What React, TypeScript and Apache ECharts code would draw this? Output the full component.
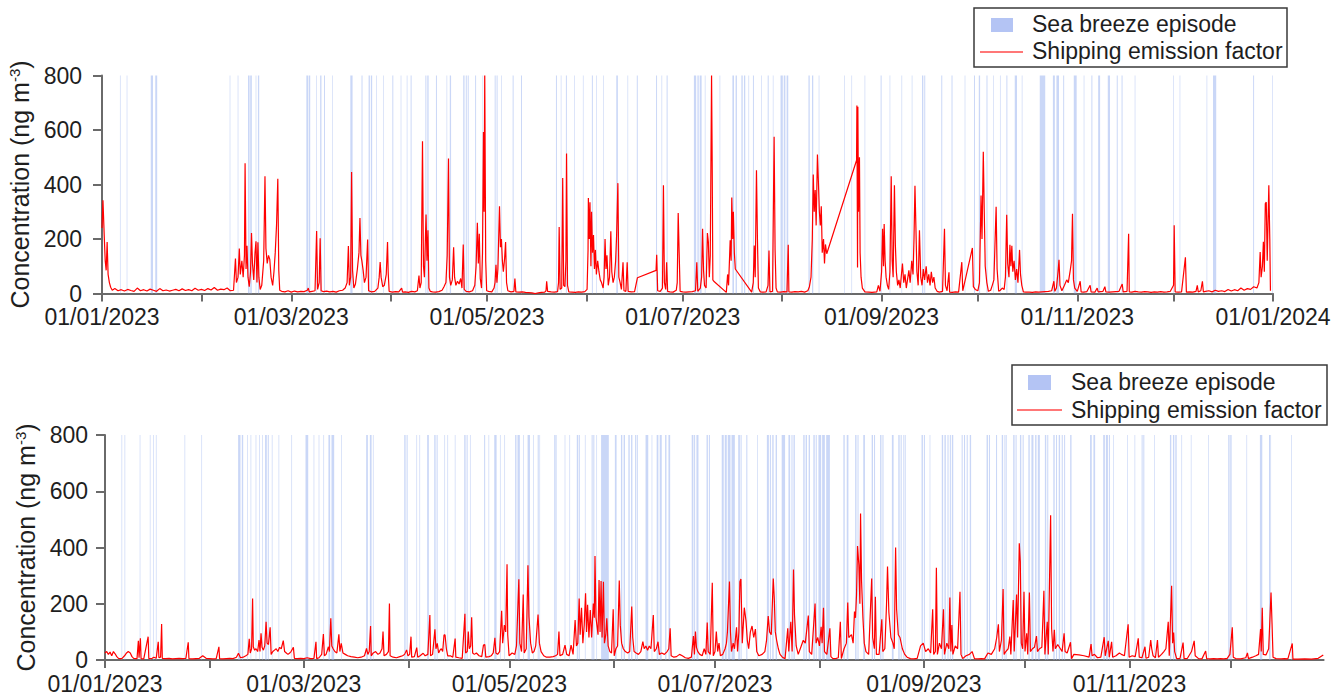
import React, { useEffect, useRef } from 'react';
import * as echarts from 'echarts';

// Day-of-year positions (0 = 1 Jan 2023) of month starts and labelled ticks
const monthStartDays = [0, 31, 59, 90, 120, 151, 181, 212, 243, 273, 304, 334, 365];
const labelDays = [0, 59, 120, 181, 243, 304, 365];
const labelTexts = ['01/01/2023', '01/03/2023', '01/05/2023', '01/07/2023', '01/09/2023', '01/11/2023', '01/01/2024'];
const yTicks = [0, 200, 400, 600, 800];

// Shipping emission factor, panel 1: [day of year, ng m-3]
const shippingTop: [number, number][] = [
  [0, 240], [0.3, 342], [0.7, 210], [1.0, 120], [1.3, 85], [1.6, 189], [1.9, 70], [2.3, 40], [2.7, 23], [3.2, 12], [4, 18], [5, 10], [6, 14], [7, 9], [8, 15], [9, 11], [10, 8], [11, 20], [12, 10], [13, 14], [14, 9], [15, 16], [16, 12], [17, 8], [18, 18], [19, 10], [20, 13], [21, 9], [22, 12], [23, 15], [24, 10], [25, 17], [26, 11], [27, 14], [28, 10], [29, 19], [30, 12], [31, 15], [32, 11], [33, 18], [34, 13], [35, 22], [36, 12], [37, 16], [38, 14], [39, 20], [40, 10], [41, 12],
  [41.6, 128], [41.9, 40], [42.4, 60], [42.8, 165], [43.1, 70], [43.6, 120], [44.0, 60], [44.4, 140], [44.6, 478], [44.9, 90], [45.2, 175], [45.5, 60], [45.9, 25], [46.3, 80], [46.6, 222], [46.9, 110], [47.3, 50], [47.7, 150], [48.0, 192], [48.3, 40], [48.6, 188], [48.9, 60], [49.3, 15], [49.8, 30], [50.4, 120], [50.8, 430], [51.1, 165], [51.5, 110], [51.9, 140], [52.3, 125], [52.7, 60], [53.2, 30], [53.6, 80], [54.0, 150], [54.4, 250], [54.8, 421], [55.1, 85], [55.4, 12],
  [56, 8], [57, 6], [58, 10], [59, 5], [60, 9], [61, 6], [62, 8], [63, 7], [64, 12], [64.3, 20], [64.6, 6], [65.5, 8], [66.4, 10], [66.9, 229], [67.2, 15], [67.7, 40], [68.0, 203], [68.3, 10], [69, 7], [70, 9], [71, 6], [72, 8], [73, 5], [74, 10], [75, 12], [75.8, 20], [76.4, 40], [76.8, 174], [77.1, 30], [77.5, 60], [77.8, 446], [78.1, 85], [78.5, 20], [79, 35], [79.6, 90], [80.1, 150], [80.4, 277], [80.7, 140], [81.0, 120], [81.4, 85], [81.8, 40], [82.3, 60], [82.8, 198], [83.1, 10], [84, 6], [85, 8], [86, 20], [86.4, 60], [86.7, 115], [87.0, 60], [87.5, 25], [88.0, 30], [88.6, 70], [89.0, 189], [89.2, 80], [89.5, 8], [90.5, 5], [91.5, 7], [92.5, 6],
  [93.4, 20], [93.7, 5], [94.5, 6], [95.5, 4], [96.5, 8], [97.5, 6], [98.3, 10], [98.8, 66], [99.1, 20], [99.5, 40], [99.9, 559], [100.2, 100], [100.5, 60], [101.0, 290], [101.3, 120], [101.6, 232], [101.9, 20], [102.3, 8], [103, 6], [104, 5], [105, 7], [106, 12], [106.6, 25], [107.2, 40], [107.6, 140], [108.0, 495], [108.3, 60], [108.7, 30], [109.2, 50], [109.6, 170], [109.9, 60], [110.3, 30], [110.8, 45], [111.3, 35], [111.8, 55], [112.2, 20], [112.6, 180], [112.9, 15], [113.5, 8], [114.5, 6], [115.5, 10], [116.2, 30], [116.6, 100], [117.0, 260], [117.3, 110], [117.6, 219], [117.9, 55], [118.3, 20], [118.6, 150], [118.9, 593], [119.1, 300], [119.3, 800], [119.6, 120], [119.9, 10], [120.5, 8], [121.5, 6], [122.2, 20], [122.5, 40], [122.8, 105], [123.1, 40], [123.4, 90], [123.9, 320], [124.2, 170], [124.5, 200], [124.8, 120], [125.1, 80], [125.5, 130], [125.8, 189], [126.1, 40], [126.5, 10], [127.5, 6], [128.4, 8], [128.7, 55], [129.0, 6], [130, 5], [131, 6], [132, 4], [133, 3], [134, 2], [135, 0], [136, 2], [137, 4], [138, 5], [138.4, 10], [138.6, 45], [138.9, 8], [140, 6], [141, 5], [142, 7], [142.3, 40], [142.5, 244], [142.8, 15], [143.3, 20], [143.6, 424], [143.9, 30], [144.3, 25], [144.6, 120], [144.8, 514], [145.1, 30], [145.5, 6], [146.5, 5], [147.5, 4], [148.5, 6], [149.5, 5], [150.5, 7],
  [151.2, 15], [151.5, 160], [151.6, 350], [151.9, 200], [152.1, 335], [152.4, 100], [152.6, 300], [152.9, 150], [153.2, 215], [153.5, 90], [153.8, 160], [154.1, 70], [154.5, 120], [154.9, 80], [155.3, 50], [155.7, 40], [156.2, 20], [156.5, 60], [156.8, 200], [157.1, 90], [157.4, 140], [157.8, 30], [158.2, 60], [158.6, 228], [158.9, 80], [159.3, 40], [159.7, 60], [160.1, 120], [160.4, 212], [160.8, 405], [161.1, 60], [161.5, 40], [161.9, 15], [162.4, 115], [162.7, 10], [163.3, 8], [163.7, 115], [164.0, 8], [165, 6], [166, 7], [166.9, 58], [172.7, 85], [172.9, 142], [173.2, 10], [174, 8], [174.7, 20], [175.0, 397], [175.3, 40], [175.7, 15], [176.0, 115], [176.3, 8], [177, 6], [178, 5], [179, 12], [179.3, 40], [179.6, 295], [179.9, 150], [180.2, 8], [181, 6], [182, 5], [183, 6], [184, 7], [185, 10],
  [185.4, 115], [185.7, 8], [186.5, 20], [186.9, 60], [187.2, 238], [187.5, 85], [187.8, 30], [188.3, 20], [188.7, 222], [189.0, 190], [189.3, 60], [189.6, 140], [190.0, 800], [190.2, 470], [190.4, 50], [190.7, 45], [194.6, 4], [195.0, 70], [195.3, 30], [195.8, 195], [196.1, 120], [196.3, 352], [196.6, 200], [196.8, 300], [197.1, 150], [197.4, 90], [202.5, 5], [203.0, 40], [203.3, 176], [203.6, 60], [204.0, 452], [204.3, 200], [204.6, 20], [205.2, 6], [206, 5], [207, 6], [207.6, 30], [207.9, 158], [208.2, 6], [209, 8], [209.5, 575], [209.8, 160], [210.1, 20], [210.5, 6], [211.5, 5], [212.5, 7], [213.5, 6], [213.9, 179], [214.1, 6], [215, 5], [216, 7], [217, 6], [218, 8], [219, 5], [220, 10],
  [220.5, 25], [221.0, 60], [221.4, 200], [221.7, 437], [222.0, 300], [222.3, 380], [222.6, 250], [223.0, 510], [223.3, 410], [223.6, 300], [223.9, 250], [224.2, 320], [224.5, 150], [224.9, 200], [225.2, 110], [225.5, 180], [225.9, 146], [235.2, 489], [235.3, 690], [235.5, 95], [235.6, 685], [235.8, 300], [236.1, 500], [236.3, 150], [236.6, 60], [237, 20], [237.8, 6], [239, 5], [240, 4], [241.5, 6], [242, 30], [242.5, 8],
  [243.0, 80], [243.3, 238], [243.6, 100], [243.8, 255], [244.1, 120], [244.4, 60], [244.8, 30], [245.2, 15], [245.6, 80], [246.0, 430], [246.3, 120], [246.6, 60], [247.0, 397], [247.3, 175], [247.6, 80], [248.0, 30], [248.4, 50], [248.8, 20], [249.5, 110], [249.9, 40], [250.3, 70], [250.7, 20], [251.5, 85], [251.9, 40], [252.4, 120], [252.8, 70], [253.1, 200], [253.4, 395], [253.7, 240], [254.0, 80], [254.4, 30], [254.8, 232], [255.2, 60], [255.6, 30], [256.0, 90], [256.4, 50], [256.9, 100], [257.3, 40], [257.7, 70], [258.1, 30], [258.5, 80], [258.9, 40], [259.3, 60], [259.7, 20], [260.3, 8], [261, 5], [262, 8], [262.6, 238], [262.9, 30], [263.4, 10], [264.0, 78], [264.2, 5], [265, 4], [266, 6], [267, 5], [268.0, 115], [268.3, 10], [271.3, 167], [271.6, 25], [272.2, 15], [273, 10],
  [273.5, 40], [274.0, 360], [274.3, 200], [274.7, 520], [275.0, 300], [275.3, 100], [275.8, 40], [276.3, 8], [277, 12], [277.5, 30], [278.0, 50], [278.7, 318], [279.0, 90], [279.5, 8], [280, 12], [280.6, 20], [281.2, 15], [281.6, 60], [282.0, 289], [282.3, 110], [282.7, 60], [283.0, 179], [283.3, 100], [283.6, 175], [283.9, 80], [284.3, 120], [284.7, 50], [285.1, 90], [285.5, 40], [286.0, 160], [286.3, 70], [286.7, 30], [287.2, 6], [288, 5], [289, 5], [290, 4], [291, 6], [292, 5], [293, 6], [294, 7], [295, 8], [296, 10], [296.7, 45], [297.0, 8], [297.5, 20], [298.0, 80], [298.3, 124], [298.6, 30], [299.2, 10], [300.0, 30], [300.7, 50], [301.2, 40], [301.8, 85], [302.2, 120], [302.5, 293], [302.8, 50], [303.2, 20], [304.0, 8], [304.9, 45], [305.2, 6], [306, 5], [307, 7], [308, 30], [308.3, 6], [309.5, 5], [310.2, 20], [310.5, 6], [312, 8], [312.6, 25], [312.9, 6], [314, 5], [315, 6], [316, 7], [317, 8], [318.0, 35], [318.3, 6], [319.5, 8], [320.0, 219], [320.2, 6],
  [321, 5], [322, 8], [323, 6], [324, 5], [325, 7], [326, 6], [327, 4], [328, 6], [329, 5], [330, 7], [331, 5], [332, 6], [333, 8], [334.0, 30], [334.2, 250], [334.5, 6], [335.5, 5], [336.5, 6], [337.7, 133], [338.0, 5], [339, 6], [340, 5], [341, 8], [341.4, 30], [341.7, 6], [342.5, 10], [343.0, 45], [343.3, 6], [344, 8], [345, 10], [346, 6], [347, 12], [348, 8], [349, 10], [350, 7], [351, 15], [352, 9], [353, 14], [354, 10], [355, 20], [356, 12], [357, 18], [358, 15], [359, 25], [360, 20], [360.6, 40], [361.0, 152], [361.3, 60], [361.7, 100], [362.0, 190], [362.3, 80], [362.6, 330], [362.9, 335], [363.2, 120], [363.7, 397], [364.0, 200], [364.2, 10],
];

// Shipping emission factor, panel 2: [day of year, ng m-3]
const shippingBottom: [number, number][] = [
  [0, 25], [0.5, 30], [1, 20], [1.5, 28], [2, 15], [2.5, 30], [3, 22], [3.5, 12], [4, 6], [5, 5], [5.8, 15], [6.4, 25], [6.9, 30], [7.5, 25], [8, 12], [8.5, 6], [9.5, 5], [9.9, 68], [10.1, 8], [10.5, 77], [10.7, 5], [11.5, 4], [12.8, 83], [13.0, 5], [14, 6], [14.5, 10], [15.2, 6], [15.8, 65], [16.0, 8], [16.5, 10], [16.8, 128], [17.0, 6], [18, 5], [19, 6], [20, 4], [21, 5], [22, 6], [23, 5], [24, 6], [24.7, 63], [24.9, 5], [26, 4], [27, 5], [28, 6], [29, 15], [30, 6], [31, 5], [32, 4], [33, 5], [33.8, 47], [34.0, 5], [35, 4], [36, 5], [37, 6], [38, 5], [39, 10], [39.6, 24], [40.2, 8], [41, 10], [41.8, 15], [42.4, 20], [42.8, 75], [43.1, 25], [43.5, 40], [43.8, 219], [44.0, 47], [44.4, 35], [44.8, 40], [45.3, 30], [45.7, 71], [46.0, 30], [46.3, 95], [46.6, 45], [47.0, 35], [47.4, 50], [47.8, 136], [48.1, 60], [48.5, 55], [49.0, 116], [49.3, 20], [49.8, 30], [50.3, 35], [50.8, 40], [51.3, 30], [51.8, 45], [52.3, 40], [52.9, 69], [53.3, 30], [53.8, 25], [54.3, 20], [54.8, 25], [55.2, 30], [55.9, 45], [56.2, 6],
  [57, 5], [58, 6], [59, 5], [60, 8], [61, 5], [62, 6], [62.6, 65], [62.8, 5], [63.5, 8], [64.3, 20], [64.8, 92], [65.1, 15], [65.6, 20], [66.3, 47], [66.6, 30], [67.0, 148], [67.3, 50], [67.7, 40], [68.2, 30], [68.8, 25], [69.4, 91], [69.7, 30], [70.1, 59], [70.6, 25], [71.3, 20], [72, 15], [73, 12], [74, 10], [75, 8], [76, 10], [77.0, 15], [77.6, 41], [78.0, 20], [78.4, 30], [78.8, 121], [79.0, 15], [79.6, 25], [80.3, 30], [81, 20], [81.6, 25], [82.2, 40], [82.5, 101], [82.8, 15], [83.5, 20], [84.1, 30], [84.4, 201], [84.6, 15], [85.5, 10], [86.5, 8], [87.5, 12],
  [88.3, 15], [88.9, 20], [89.5, 36], [89.9, 15], [90.4, 20], [90.8, 83], [91.0, 10], [91.8, 12], [92.5, 44], [92.8, 10], [93.5, 15], [94.4, 24], [95, 15], [95.8, 20], [96.4, 160], [96.6, 15], [97.2, 20], [97.9, 109], [98.2, 40], [98.6, 59], [99.0, 25], [99.4, 35], [99.8, 40], [100.2, 30], [100.6, 89], [100.9, 89], [101.3, 40], [101.7, 15], [102.5, 15], [103.2, 10], [103.9, 76], [104.1, 10], [105, 8], [106, 6], [106.8, 164], [107.0, 25], [107.5, 30], [107.8, 101], [108.1, 40], [108.5, 50], [108.8, 152], [109.1, 25], [109.6, 20], [110.2, 25], [111, 15], [111.8, 12], [112.3, 53], [112.7, 55], [113.0, 10], [114, 12], [114.6, 15], [115.2, 25], [115.7, 79], [116.0, 25], [116.5, 20], [117.1, 30], [117.7, 175], [118.0, 60], [118.5, 124], [118.9, 100], [119.3, 340], [119.5, 90], [119.9, 15], [120.8, 25], [121.6, 20], [122.1, 50], [122.8, 287], [123.1, 60], [123.6, 30], [124.1, 233], [124.4, 25], [125.0, 40], [125.5, 337], [125.8, 154], [126.3, 60], [126.8, 25], [127.3, 30], [127.8, 50], [128.5, 162], [128.9, 60], [129.4, 30], [130.2, 15], [131, 10], [132, 10], [133, 12],
  [133.7, 15], [134.3, 20], [134.7, 101], [135.0, 15], [135.8, 20], [136.5, 53], [137.0, 20], [137.7, 15], [138.3, 53], [138.9, 20], [139.5, 142], [139.9, 50], [140.3, 60], [140.7, 219], [141.0, 90], [141.4, 186], [141.8, 60], [142.2, 124], [142.6, 237], [142.9, 100], [143.2, 196], [143.6, 80], [144.0, 178], [144.4, 80], [144.9, 201], [145.2, 150], [145.4, 370], [145.7, 150], [146.0, 120], [146.3, 90], [146.6, 284], [146.9, 100], [147.2, 281], [147.5, 80], [147.9, 278], [148.2, 60], [148.6, 90], [148.9, 148], [149.3, 50], [149.8, 30], [150.3, 25], [150.8, 180], [151.1, 15], [151.6, 40], [152.1, 50], [152.6, 283], [152.9, 124], [153.3, 60], [153.8, 40], [154.4, 30], [155.1, 25], [155.7, 30], [156.3, 190], [156.6, 80], [157.0, 30], [157.6, 25], [158.3, 20], [159.0, 30], [159.6, 65], [160.0, 40], [160.5, 50], [161.0, 35], [161.5, 50], [162.0, 40], [162.7, 160], [163.0, 30], [163.6, 40], [164.1, 65], [164.5, 20], [165.2, 25], [166.0, 20], [166.8, 30], [167.3, 40], [167.7, 113], [168.0, 15], [168.8, 10], [169.6, 12], [170.5, 20], [171.3, 15], [172.2, 8], [173.1, 6], [174.0, 10],
  [174.6, 85], [174.9, 20], [175.2, 101], [175.5, 45], [175.9, 30], [176.5, 20], [177.2, 15], [177.8, 40], [178.3, 20], [178.7, 133], [179.0, 30], [179.6, 20], [180.2, 275], [180.5, 15], [181.0, 30], [181.4, 101], [181.8, 30], [182.2, 60], [182.6, 15], [183.3, 20], [184.0, 40], [184.4, 60], [184.7, 101], [185.3, 279], [185.6, 100], [185.9, 30], [186.4, 60], [186.8, 40], [187.4, 116], [187.7, 30], [188.1, 100], [188.4, 278], [188.7, 288], [189.1, 60], [189.7, 186], [190.2, 140], [190.6, 70], [191.0, 40], [191.5, 100], [192.0, 121], [192.5, 80], [193.0, 110], [193.4, 30], [194.0, 15], [195.0, 20], [195.8, 30], [196.3, 70], [196.8, 156], [197.2, 100], [197.7, 90], [198.3, 290], [198.6, 219], [198.9, 100], [199.3, 70], [199.8, 40], [200.3, 20], [201.0, 10], [201.8, 5], [202.6, 113], [202.9, 30], [203.5, 136], [203.9, 30], [204.3, 322], [204.6, 160], [205.1, 50], [205.7, 20], [206.6, 50], [207.2, 70], [207.8, 60], [208.7, 158], [209.0, 30], [209.7, 20], [210.7, 201], [211.0, 60], [211.5, 80], [212.0, 50], [212.5, 118], [212.8, 60], [213.2, 186], [213.5, 30], [214.2, 20], [215.1, 113], [215.4, 12], [216, 5], [217, 6], [217.6, 8],
  [218.2, 136], [218.5, 5], [219.3, 40], [220.0, 60], [220.4, 204], [220.7, 80], [221.5, 90], [222.0, 60], [222.4, 172], [222.7, 150], [223.0, 231], [223.3, 405], [223.7, 338], [224.0, 200], [224.2, 521], [224.5, 280], [224.9, 150], [225.3, 60], [225.8, 30], [226.6, 20], [227.5, 290], [227.8, 80], [228.3, 40], [228.6, 225], [228.9, 20], [229.7, 20], [230.5, 145], [230.8, 30], [231.4, 40], [231.9, 196], [232.2, 332], [232.6, 170], [233.2, 80], [233.8, 60], [234.2, 40], [234.6, 400], [234.9, 180], [235.4, 90], [235.9, 80], [236.6, 40], [237.3, 20], [238.0, 10], [239, 5], [240, 4], [241, 6],
  [242.0, 50], [242.8, 60], [243.5, 30], [244.3, 40], [245.0, 25], [245.6, 180], [245.9, 20], [246.4, 30], [246.7, 328], [247.0, 20], [247.6, 60], [248.2, 40], [248.8, 180], [249.1, 20], [249.8, 60], [250.4, 40], [250.7, 222], [251.0, 30], [251.3, 124], [251.6, 20], [252.3, 50], [253.0, 40], [253.7, 243], [254.0, 20], [254.5, 5], [255.5, 15], [256.5, 20], [257.3, 30], [258.0, 5], [259, 4], [260, 5], [261, 4], [262.0, 25], [263.0, 20], [264.0, 40], [264.6, 80], [265.1, 127], [265.4, 30], [266.0, 71], [266.5, 252], [266.8, 20], [267.3, 30], [268.0, 40], [268.5, 83], [268.8, 20], [269.5, 213], [269.8, 30], [270.5, 233], [270.8, 80], [271.3, 415], [271.6, 350], [271.9, 60], [272.3, 40], [272.7, 243], [273.0, 30], [273.5, 95], [273.8, 20], [274.3, 240], [274.6, 30], [275.2, 40], [275.8, 45], [276.4, 85], [276.7, 30], [277.3, 40], [278.0, 45], [278.6, 246], [278.9, 20], [279.6, 136], [279.9, 20], [280.6, 515], [280.9, 110], [281.3, 30], [281.7, 107], [282.0, 40], [282.7, 55], [283.5, 40], [284.0, 30], [284.6, 95], [284.9, 30], [285.5, 25], [286.5, 63], [286.8, 5],
  [287.5, 20], [289, 18], [290.5, 15], [292, 10], [292.6, 57], [292.9, 15], [293.6, 20], [294.5, 8], [295.5, 10], [296.5, 81], [296.8, 15], [297.7, 68], [298.0, 10], [298.7, 65], [299.0, 10], [300.0, 15], [301.0, 25], [301.6, 20], [302.5, 15], [303.6, 127], [303.9, 10], [304.8, 15], [305.7, 12], [306.6, 77], [306.9, 10], [307.7, 8], [308.6, 47], [308.9, 6], [309.7, 10], [310.3, 71], [310.6, 40], [311.0, 15], [311.7, 8], [312.3, 71], [312.6, 10], [313.5, 20], [314.2, 30], [314.8, 40], [315.5, 136], [315.8, 15], [316.5, 264], [316.8, 60], [317.1, 98], [317.4, 30], [318.0, 5], [319.0, 6], [319.9, 62], [320.2, 5], [321.2, 6], [322.4, 30], [323.2, 68], [323.5, 15], [324.5, 5], [325.5, 4], [326.6, 32], [326.9, 5], [328, 4], [329, 5], [330, 4], [331, 5], [332, 4], [333, 6], [333.8, 20], [334.5, 116], [334.8, 10], [335.5, 5], [337, 4], [338.5, 8], [339.0, 25], [339.3, 5], [340.5, 10], [341.5, 15], [342.3, 20], [342.9, 110], [343.1, 30], [343.4, 186], [343.7, 20], [344.5, 18], [345.3, 40], [346.0, 240], [346.3, 130], [346.6, 10], [347.5, 5], [349, 4], [350, 5], [351, 4], [352.3, 59], [352.5, 3], [354, 3], [356, 4], [358, 3], [360, 6], [361.5, 18],
];

// Sea breeze episodes, panel 1: [start day, end day]
const breezeTop: [number, number][] = [
  [5.6, 5.8], [7.7, 7.9], [15.2, 15.9], [16.6, 17.2], [39.8, 40.0], [42.3, 42.5], [45.5, 46.0], [46.2, 46.7], [47.9, 48.1], [48.6, 49.0],
  [63.7, 64.3], [64.5, 64.9], [66.8, 67.0], [68.0, 68.4], [69.2, 69.5], [71.8, 72.0], [77.4, 78.1], [80.9, 81.2], [83.1, 83.5], [83.8, 84.2], [85.5, 85.7], [87.6, 87.8], [90.5, 90.8],
  [93.1, 93.3], [95.0, 95.2], [96.2, 96.5], [100.8, 101.1], [101.4, 101.8], [104.1, 104.4], [107.4, 107.6], [108.4, 108.8], [112.6, 113.0], [113.4, 113.7], [114.0, 114.3], [116.3, 116.6], [118.6, 118.8], [122.4, 122.7], [123.0, 123.3], [124.4, 124.6], [128.0, 128.3], [130.6, 130.9],
  [141.5, 141.8], [143.0, 143.2], [144.6, 144.9], [147.2, 147.4], [149.9, 150.1], [152.7, 153.0], [154.0, 154.2], [156.2, 156.4], [160.3, 160.8], [163.8, 164.0], [166.7, 167.0], [172.7, 173.0], [174.4, 174.6], [176.0, 176.3],
  [184.5, 185.2], [185.6, 186.0], [186.3, 186.9], [187.9, 188.1], [192.5, 192.7], [196.5, 197.0], [197.5, 197.9], [199.3, 199.7], [200.1, 200.5], [201.5, 201.7], [202.9, 203.2], [205.5, 205.7], [207.5, 207.8], [209.1, 209.3], [211.5, 212.2], [212.5, 213.0], [213.4, 213.9], [220.2, 220.6], [221.3, 221.7], [223.4, 223.6], [231.3, 231.5], [233.6, 233.8], [237.7, 237.9], [242.7, 243.0], [245.5, 245.7], [249.2, 249.4], [252.4, 252.6], [255.6, 256.0], [256.3, 256.6], [261.6, 261.9], [264.8, 265.1], [268.9, 269.1], [271.8, 272.1], [273.3, 273.7],
  [275.7, 276.0], [277.8, 278.0], [279.9, 280.1], [281.9, 282.2], [284.5, 285.2], [286.7, 286.9], [292.3, 294.0], [296.4, 297.0], [297.5, 298.3], [299.6, 299.9], [302.9, 303.8], [306.0, 306.2], [308.4, 308.7], [310.5, 311.1], [313.5, 314.2], [316.3, 316.6], [317.8, 318.1], [321.9, 322.1], [333.9, 334.1], [335.9, 336.1], [344.3, 344.5], [346.3, 347.3], [358.8, 359.1], [364.8, 365.0],
];

// Sea breeze episodes, panel 2: [start day, end day]
const breezeBottom: [number, number][] = [
  [4.9, 5.1], [5.8, 6.0], [10.3, 10.5], [13.3, 13.5], [14.3, 14.5], [15.1, 15.3], [23.6, 23.8], [28.6, 28.8],
  [39.5, 40.2], [40.6, 41.0], [42.2, 42.4], [43.2, 43.4], [44.7, 44.9], [45.7, 45.9], [46.6, 46.8], [47.5, 48.0], [48.3, 48.6], [49.5, 49.7], [51.5, 51.7], [55.3, 55.5],
  [59.5, 60.3], [61.9, 62.1], [63.4, 63.6], [64.8, 65.0], [66.3, 66.8], [67.2, 68.0], [70.1, 70.3], [77.5, 78.0], [78.6, 79.1], [79.5, 79.7],
  [88.8, 89.2], [89.5, 89.8], [92.4, 92.6], [93.3, 93.5], [95.6, 96.1], [97.7, 98.1], [98.4, 98.7], [100.7, 100.9], [101.6, 101.8], [103.8, 104.0], [106.6, 107.0], [107.3, 107.6], [108.3, 108.5], [112.5, 112.8], [113.8, 114.0], [115.5, 116.2], [117.2, 117.4], [118.5, 118.7], [121.7, 122.1], [122.4, 123.1], [124.1, 124.3], [125.4, 126.1], [127.0, 127.2], [128.4, 128.7], [128.9, 129.1],
  [133.3, 133.7], [133.8, 134.0], [136.4, 136.6], [137.8, 138.0], [140.0, 140.4], [140.6, 140.9], [142.4, 142.6], [144.4, 144.7], [144.9, 145.2], [145.8, 146.0], [147.2, 149.5], [151.3, 151.8], [153.1, 153.5], [153.9, 154.3], [155.3, 155.7], [156.1, 156.5], [157.3, 157.6], [157.8, 158.1], [160.4, 161.2], [162.2, 162.4], [163.7, 164.2], [164.6, 165.2], [166.2, 166.6], [167.2, 167.7],
  [174.1, 174.6], [174.8, 175.1], [175.5, 176.1], [178.5, 178.9], [179.2, 179.5], [183.0, 183.6], [183.9, 184.5], [184.8, 185.6], [185.9, 186.9], [187.9, 188.4], [188.6, 188.9], [190.3, 190.6], [193.5, 193.7], [196.4, 197.0], [197.3, 197.6], [198.0, 198.4], [199.0, 199.4], [200.8, 201.8], [202.8, 203.3], [203.7, 204.0], [204.3, 204.7], [207.2, 207.6], [207.9, 208.3], [208.8, 209.2], [210.2, 210.6], [210.9, 211.2], [211.7, 212.5], [212.8, 213.6], [214.0, 215.1], [219.1, 219.5], [220.1, 220.6], [222.6, 223.0], [223.3, 223.6], [225.0, 225.5], [227.5, 227.9], [228.2, 228.5], [230.0, 230.4], [230.7, 231.0], [233.5, 234.0], [235.4, 235.8], [236.1, 236.4], [236.9, 237.2], [237.4, 237.6], [242.3, 242.7], [243.0, 243.3], [244.7, 244.9], [248.3, 248.7], [249.1, 249.5], [250.0, 250.3], [250.7, 251.0], [251.3, 251.7], [254.2, 254.5], [254.9, 255.2], [255.7, 256.0], [256.6, 257.0], [261.6, 262.0], [262.3, 262.6], [264.4, 264.7],
  [266.1, 266.5], [266.9, 267.2], [267.4, 267.6], [269.5, 269.9], [270.2, 270.5], [271.5, 271.9], [272.3, 272.6], [274.0, 274.4], [274.9, 275.5], [276.0, 276.4], [276.8, 277.4], [278.9, 279.3], [279.6, 279.9], [281.4, 281.8], [282.2, 282.5], [283.0, 283.4], [283.9, 284.2], [284.6, 284.9], [286.4, 286.8], [292.3, 292.8], [293.3, 293.8], [296.2, 296.7], [297.0, 297.6], [297.9, 298.2], [299.2, 299.4], [303.3, 303.5], [305.5, 305.7], [307.6, 307.9], [308.1, 308.4], [311.3, 311.5], [316.0, 316.4], [316.9, 317.3], [317.6, 318.0], [319.4, 319.6], [322.2, 322.4], [327.3, 327.5], [333.3, 333.7], [333.9, 334.3], [338.7, 338.9], [342.7, 343.4], [345.4, 345.7], [345.8, 346.0], [352.0, 352.2],
];

const FONT = '"Liberation Sans", Arial, sans-serif';
const AXIS_GREY = '#6a6a6a';
const TEXT = '#1e1e1e';
const RED = '#ff0000';
const BREEZE_FILL = 'rgba(150,175,240,0.5)';
const BREEZE_SWATCH = '#b4c4f4';

function xAxisFor(gridIndex: number, max: number, lastLabel: number) {
  return {
    type: 'value',
    gridIndex,
    min: 0,
    max,
    axisLine: { show: true, onZero: false, lineStyle: { color: AXIS_GREY, width: 2 } },
    axisTick: {
      show: true,
      length: 8,
      customValues: monthStartDays.filter((d) => d <= max),
      lineStyle: { color: AXIS_GREY, width: 2 },
    },
    axisLabel: {
      customValues: labelDays.filter((d) => d <= lastLabel),
      formatter: (v: number) => {
        const i = labelDays.indexOf(Math.round(v));
        return i >= 0 ? labelTexts[i] : '';
      },
      fontSize: 23,
      color: TEXT,
      fontFamily: FONT,
      margin: 12,
    },
    splitLine: { show: false },
  };
}

function yAxisFor(gridIndex: number, offset: number, labelMargin: number, nameGap: number) {
  return {
    type: 'value',
    gridIndex,
    min: 0,
    max: 800,
    interval: 200,
    offset,
    axisLine: { show: true, lineStyle: { color: AXIS_GREY, width: 2 } },
    axisTick: { show: true, length: 9, customValues: yTicks, lineStyle: { color: AXIS_GREY, width: 2 } },
    axisLabel: { fontSize: 23, color: TEXT, fontFamily: FONT, margin: labelMargin },
    splitLine: { show: false },
    name: '{a|Concentration (ng m}{s|-3}{a|)}',
    nameLocation: 'middle',
    nameRotate: 90,
    nameGap,
    nameTextStyle: {
      rich: {
        a: { fontSize: 25, color: TEXT, fontFamily: FONT },
        s: { fontSize: 15, color: TEXT, fontFamily: FONT, verticalAlign: 'top', padding: [0, 0, 11, 0] },
      },
    },
  };
}

function lineSeries(index: number, data: [number, number][], bands: [number, number][]) {
  return {
    type: 'line',
    name: 'Shipping emission factor',
    xAxisIndex: index,
    yAxisIndex: index,
    data,
    showSymbol: false,
    symbol: 'none',
    clip: true,
    lineStyle: { color: RED, width: 1.2 },
    markArea: {
      silent: true,
      itemStyle: { color: BREEZE_FILL },
      data: bands.map(([s, e]) => [{ xAxis: s }, { xAxis: e }]),
    },
  };
}

function legendBox(x: number, y: number, w: number, h: number, swatch: number[], line: number[], textX: number, row1: number, row2: number) {
  return {
    type: 'group',
    z: 100,
    children: [
      { type: 'rect', shape: { x, y, width: w, height: h }, style: { fill: '#ffffff', stroke: '#3a3a3a', lineWidth: 1.5 } },
      { type: 'rect', shape: { x: swatch[0], y: swatch[1], width: swatch[2], height: swatch[3] }, style: { fill: BREEZE_SWATCH } },
      { type: 'text', style: { x: textX, y: row1, text: 'Sea breeze episode', fontSize: 23, fontFamily: FONT, fill: TEXT, verticalAlign: 'middle' } },
      { type: 'line', shape: { x1: line[0], y1: line[2], x2: line[1], y2: line[2] }, style: { stroke: '#ff4a4a', lineWidth: 1.4 } },
      { type: 'text', style: { x: textX, y: row2, text: 'Shipping emission factor', fontSize: 23, fontFamily: FONT, fill: TEXT, verticalAlign: 'middle' } },
    ],
  };
}

export default function App() {
  const ref = useRef<HTMLDivElement>(null);

  useEffect(() => {
    if (!ref.current) return;
    const chart = echarts.init(ref.current, null, { renderer: 'svg' });
    chart.setOption({
      animation: false,
      backgroundColor: '#ffffff',
      textStyle: { fontFamily: FONT },
      grid: [
        { left: 102, top: 75.5, width: 1171, height: 218, outerBoundsMode: 'none', containLabel: false },
        { left: 105, top: 435, width: 1218.6, height: 225, outerBoundsMode: 'none', containLabel: false },
      ],
      xAxis: [xAxisFor(0, 365, 365), xAxisFor(1, 361.6, 304)],
      yAxis: [yAxisFor(0, 5, 15, 56), yAxisFor(1, 2, 15, 63)],
      series: [lineSeries(0, shippingTop, breezeTop), lineSeries(1, shippingBottom, breezeBottom)],
      graphic: [
        legendBox(974, 8, 313, 59, [991, 18, 22, 14], [980, 1023, 52], 1032, 24, 51),
        legendBox(1012, 365, 315, 60, [1028, 375, 23, 15], [1017, 1062, 410], 1071, 382, 410),
      ],
    });
    return () => chart.dispose();
  }, []);

  return (
    <div
      ref={ref}
      style={{ position: 'fixed', left: 0, top: 0, width: 1335, height: 700, background: '#ffffff' }}
    />
  );
}
